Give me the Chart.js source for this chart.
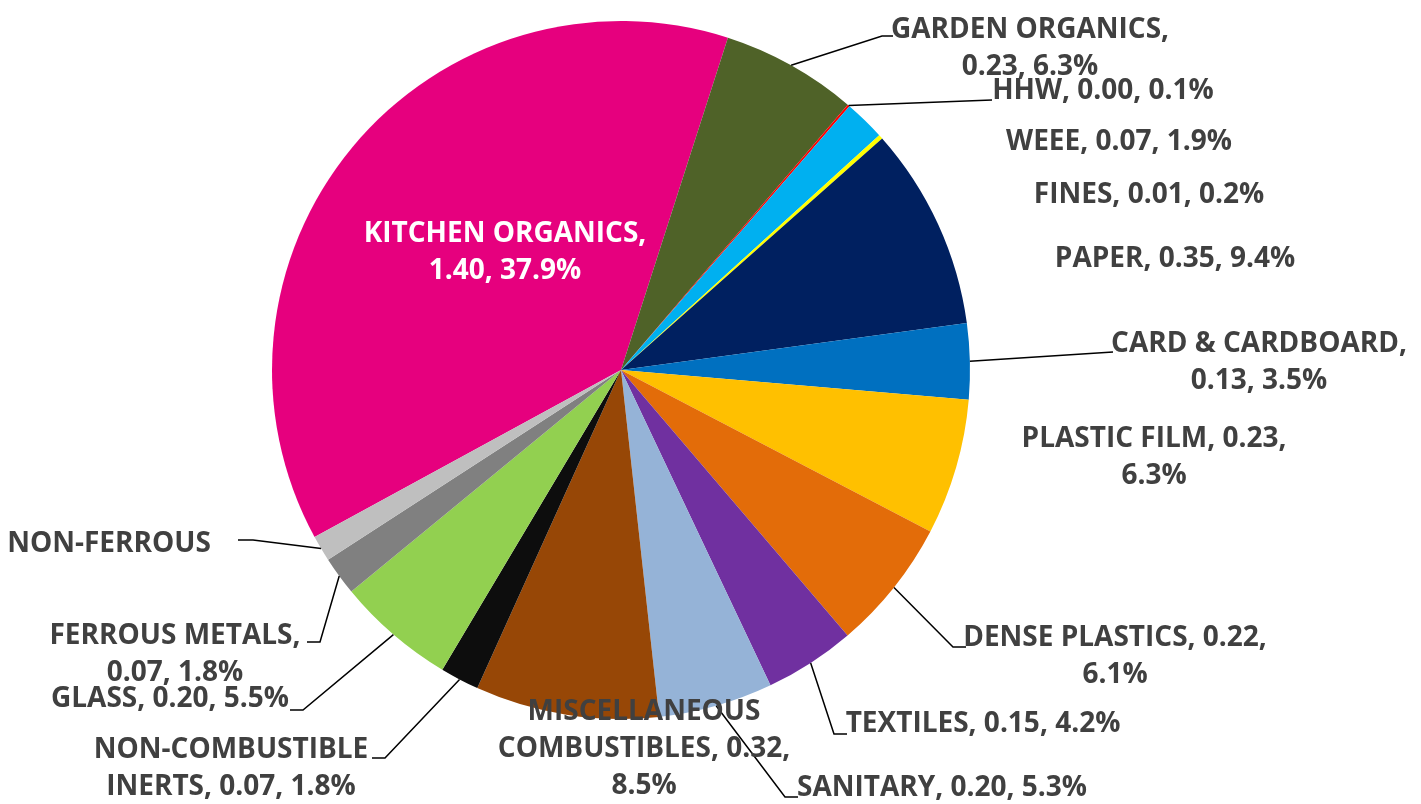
<!DOCTYPE html>
<html>
<head>
<meta charset="utf-8">
<title>Waste composition</title>
<script src="https://cdn.jsdelivr.net/npm/chart.js@4"></script>
<style>
  html, body { margin: 0; padding: 0; background: #fff; }
  #wasteChart { display: block; }
</style>
</head>
<body>
<canvas id="wasteChart" width="1421" height="804"></canvas>
<script>
'use strict';
const categories = ['KITCHEN ORGANICS','GARDEN ORGANICS','HHW','WEEE','FINES','PAPER','CARD & CARDBOARD','PLASTIC FILM','DENSE PLASTICS','TEXTILES','SANITARY','MISCELLANEOUS COMBUSTIBLES','NON-COMBUSTIBLE INERTS','GLASS','FERROUS METALS','NON-FERROUS'];
const tonnes = [1.40, 0.23, 0.00, 0.07, 0.01, 0.35, 0.13, 0.23, 0.22, 0.15, 0.20, 0.32, 0.07, 0.20, 0.07, 0.04];
const shares = [37.9, 6.3, 0.1, 1.9, 0.2, 9.4, 3.5, 6.3, 6.1, 4.2, 5.3, 8.5, 1.8, 5.5, 1.8, 1.2];
const colours = ['#E6007E','#4F6228','#FF0000','#00B0F0','#FFFF00','#002060','#0070C0','#FFC000','#E36C09','#7030A0','#95B3D7','#974706','#0D0D0D','#92D050','#808080','#BFBFBF'];

// where each label sits (centre of first line), how its words wrap,
// and the elbow/end of its leader line
const labelSpots = [
  {x:505, y:232, wrap:[2,2], color:'#FFFFFF'},
  {x:1030, y:28, wrap:[2,2], elbow:[882,36], end:893},
  {x:1103, y:89, elbow:[992,100], end:992},
  {x:1119, y:140},
  {x:1149, y:193},
  {x:1175, y:257},
  {x:1259, y:342, wrap:[3,2], elbow:[1113,352], end:1113},
  {x:1154, y:437, wrap:[3,1]},
  {x:1115, y:636, wrap:[3,1], elbow:[953,647], end:966},
  {x:983, y:722, elbow:[834,734], end:847},
  {x:942, y:786, elbow:[785,797], end:798},
  {x:644, y:710, wrap:[1,2,1]},
  {x:231, y:748, wrap:[1,3], elbow:[385,758], end:372},
  {x:170, y:697, elbow:[303,710], end:290},
  {x:175, y:634, wrap:[2,2], elbow:[320,642], end:307},
  {x:109, y:542, nameOnly:true, elbow:[253,540], end:238}
];

function labelLines(i) {
  const spot = labelSpots[i];
  let text = categories[i];
  if (!spot.nameOnly) text += ', ' + tonnes[i].toFixed(2) + ', ' + shares[i].toFixed(1) + '%';
  if (!spot.wrap) return [text];
  const words = text.split(' ');
  const lines = [];
  let k = 0;
  spot.wrap.forEach(n => { lines.push(words.slice(k, k + n).join(' ')); k += n; });
  return lines;
}

const sliceLabels = {
  id: 'sliceLabels',
  afterDatasetsDraw(chart) {
    const ctx = chart.ctx;
    const arcs = chart.getDatasetMeta(0).data;
    ctx.save();
    // leader lines first so the text sits on top
    ctx.strokeStyle = '#000000';
    ctx.lineWidth = 1.5;
    arcs.forEach((arc, i) => {
      const spot = labelSpots[i];
      if (!spot.elbow) return;
      const p = arc.getProps(['x','y','startAngle','endAngle','outerRadius'], true);
      const mid = (p.startAngle + p.endAngle) / 2;
      ctx.beginPath();
      ctx.moveTo(p.x + Math.cos(mid) * p.outerRadius, p.y + Math.sin(mid) * p.outerRadius);
      ctx.lineTo(spot.elbow[0], spot.elbow[1]);
      ctx.lineTo(spot.end, spot.elbow[1]);
      ctx.stroke();
    });
    ctx.font = 'bold 28px "Open Sans"';
    ctx.textAlign = 'center';
    ctx.textBaseline = 'middle';
    arcs.forEach((arc, i) => {
      const spot = labelSpots[i];
      ctx.fillStyle = spot.color || '#404040';
      labelLines(i).forEach((line, j) => ctx.fillText(line, spot.x, spot.y + 2 + j * 37));
    });
    ctx.restore();
  }
};

new Chart(document.getElementById('wasteChart').getContext('2d'), {
  type: 'pie',
  data: {
    labels: categories,
    datasets: [{
      data: shares,
      backgroundColor: colours,
      borderWidth: 0
    }]
  },
  options: {
    responsive: false,
    animation: false,
    rotation: 241.4,
    layout: { padding: { left: 272, right: 451, top: 21, bottom: 85 } },
    plugins: { legend: { display: false }, tooltip: { enabled: false } }
  },
  plugins: [sliceLabels]
});
</script>
</body>
</html>
